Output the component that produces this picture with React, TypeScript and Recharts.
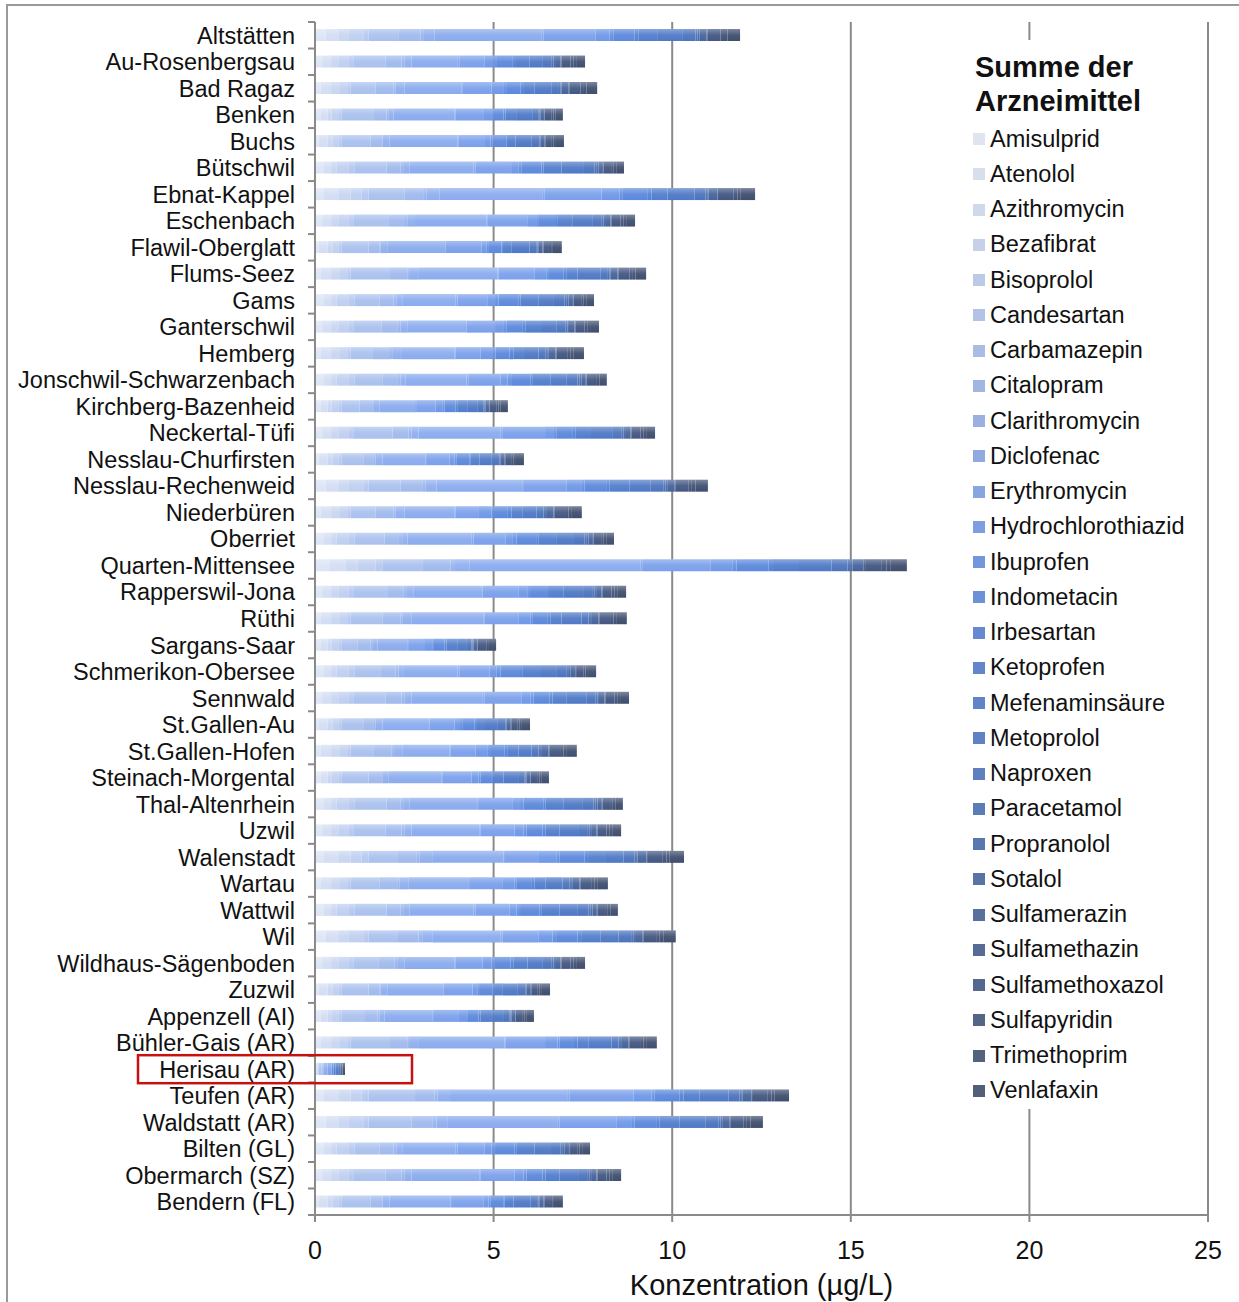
import { BarChart, Bar, XAxis, YAxis, CartesianGrid, Legend } from "recharts"

const sites = [
  "Altstätten", "Au-Rosenbergsau", "Bad Ragaz", "Benken", "Buchs", "Bütschwil", "Ebnat-Kappel",
  "Eschenbach", "Flawil-Oberglatt", "Flums-Seez", "Gams", "Ganterschwil", "Hemberg",
  "Jonschwil-Schwarzenbach", "Kirchberg-Bazenheid", "Neckertal-Tüfi", "Nesslau-Churfirsten",
  "Nesslau-Rechenweid", "Niederbüren", "Oberriet", "Quarten-Mittensee", "Rapperswil-Jona", "Rüthi",
  "Sargans-Saar", "Schmerikon-Obersee", "Sennwald", "St.Gallen-Au", "St.Gallen-Hofen",
  "Steinach-Morgental", "Thal-Altenrhein", "Uzwil", "Walenstadt", "Wartau", "Wattwil", "Wil",
  "Wildhaus-Sägenboden", "Zuzwil", "Appenzell (AI)", "Bühler-Gais (AR)", "Herisau (AR)",
  "Teufen (AR)", "Waldstatt (AR)", "Bilten (GL)", "Obermarch (SZ)", "Bendern (FL)",
]

const drugs = [
  "Amisulprid", "Atenolol", "Azithromycin", "Bezafibrat", "Bisoprolol", "Candesartan", "Carbamazepin",
  "Citalopram", "Clarithromycin", "Diclofenac", "Erythromycin", "Hydrochlorothiazid", "Ibuprofen",
  "Indometacin", "Irbesartan", "Ketoprofen", "Mefenaminsäure", "Metoprolol", "Naproxen", "Paracetamol",
  "Propranolol", "Sotalol", "Sulfamerazin", "Sulfamethazin", "Sulfamethoxazol", "Sulfapyridin",
  "Trimethoprim", "Venlafaxin",
]

// µg/L, one value per site (same order as sites)
const amisulprid = [.30,.20,.15,.15,.10, .25,.25,.20,.10,.15, .25,.20,.15,.25,.15, .20,.10,.30,.15,.25, .40,.20,.15,.15,.25, .20,.10,.15,.15,.25, .20,.25,.15,.25,.30, .20,.10,.15,.15,.02, .25,.30,.25,.20,.10]
const atenolol = [.35,.25,.30,.20,.25, .20,.40,.25,.25,.30, .20,.25,.30,.20,.20, .25,.25,.35,.30,.20, .45,.25,.30,.20,.20, .25,.25,.30,.20,.20, .25,.40,.30,.20,.35, .25,.25,.20,.30,.03, .40,.35,.20,.25,.25]
const azithromycin = [.30,.20,.25,.12,.15, .15,.35,.20,.15,.25, .15,.20,.25,.15,.12, .20,.15,.30,.25,.15, .35,.20,.25,.12,.15, .20,.15,.25,.12,.15, .20,.35,.25,.15,.30, .20,.15,.12,.25,.02, .35,.30,.15,.20,.15]
const bezafibrat = [.40,.30,.20,.20,.15, .35,.30,.30,.15,.20, .35,.30,.20,.35,.20, .30,.15,.40,.20,.35, .50,.30,.20,.20,.35, .30,.15,.20,.20,.35, .30,.30,.20,.35,.40, .30,.15,.20,.20,.02, .30,.40,.35,.30,.15]
const bisoprolol = [.15,.12,.10,.08,.10, .15,.20,.12,.10,.10, .15,.12,.10,.15,.08, .12,.10,.15,.10,.15, .20,.12,.10,.08,.15, .12,.10,.10,.08,.15, .12,.20,.10,.15,.15, .12,.10,.08,.10,.01, .20,.15,.15,.12,.10]
const candesartan = [.85,.90,.70,.90,.80, .90,1.0,1.0,.75,1.1, .70,.80,.60,.80,.50, 1.1,.60,.90,.70,.85, 1.1,.95,.90,.45,.75, .90,.60,.65,.75,.90, .90,.80,.80,.90,.80, .70,.75,.65,1.1,.08, 1.3,1.2,.70,.90,.80]
const carbamazepin = [.60,.45,.50,.35,.30, .40,.55,.45,.30,.50, .40,.45,.50,.40,.35, .45,.30,.60,.50,.40, .80,.45,.50,.35,.40, .45,.30,.50,.35,.40, .45,.55,.50,.40,.60, .45,.30,.35,.50,.04, .55,.60,.40,.45,.30]
const citalopram = [.10,.08,.06,.05,.04, .09,.08,.08,.04,.06, .09,.08,.06,.09,.05, .08,.04,.10,.06,.09, .12,.08,.06,.05,.09, .08,.04,.06,.05,.09, .08,.08,.06,.09,.10, .08,.04,.05,.06,.01, .08,.10,.09,.08,.04]
const clarithromycin = [.30,.20,.25,.15,.20, .15,.35,.20,.20,.25, .15,.20,.25,.15,.15, .20,.20,.30,.25,.15, .40,.20,.25,.15,.15, .20,.20,.25,.15,.15, .20,.35,.25,.15,.30, .20,.20,.15,.25,.02, .35,.30,.15,.20,.20]
const diclofenac = [3.0,1.3,1.6,1.7,1.9, 1.8,2.9,2.0,1.6,2.2, 1.5,1.6,1.5,1.7,1.0, 2.3,1.2,2.4,1.4,1.8, 4.8,1.9,2.0,.85,1.5, 2.0,1.3,1.3,1.5,1.9, 1.9,2.0,1.7,1.8,1.9, 1.4,1.55,1.35,2.4,.10, 3.3,3.1,1.5,1.9,1.7]
const erythromycin = [.05,.04,.03,.03,.02, .05,.04,.04,.02,.03, .05,.04,.03,.05,.03, .04,.02,.05,.03,.05, .06,.04,.03,.03,.05, .04,.02,.03,.03,.05, .04,.04,.03,.05,.05, .04,.02,.03,.03,0, .04,.05,.05,.04,.02]
const hydrochlorothiazid = [1.45,.70,.80,.80,.75, 1.0,1.6,1.1,1.0,1.0, .85,.80,.70,.90,.55, 1.2,.65,1.2,.65,.90, 1.9,1.0,.95,.45,.85, 1.05,.70,.70,.80,.95, .95,.95,.90,.95,1.0, .75,.80,.70,1.1,.10, 1.8,1.6,.75,.95,.90]
const ibuprofen = [.40,.25,.35,.20,.15, .20,.50,.25,.15,.35, .20,.25,.35,.20,.20, .25,.15,.40,.35,.20, .60,.25,.35,.20,.20, .25,.15,.35,.20,.20, .25,.50,.35,.20,.40, .25,.15,.20,.35,.01, .50,.40,.20,.25,.15]
const indometacin = [.10,.08,.06,.05,.06, .10,.08,.08,.06,.06, .10,.08,.06,.10,.05, .08,.06,.10,.06,.10, .12,.08,.06,.05,.10, .08,.06,.06,.05,.10, .08,.08,.06,.10,.10, .08,.06,.05,.06,.01, .08,.10,.10,.08,.06]
const irbesartan = [.60,.45,.40,.30,.35, .55,.70,.45,.35,.40, .55,.45,.40,.55,.30, .45,.35,.60,.40,.55, .90,.45,.40,.30,.55, .45,.35,.40,.30,.55, .45,.70,.40,.55,.60, .45,.35,.30,.40,.05, .70,.60,.55,.45,.35]
const ketoprofen = [.10,.08,.10,.05,.04, .06,.12,.08,.04,.10, .06,.08,.10,.06,.05, .08,.04,.10,.10,.06, .15,.08,.10,.05,.06, .08,.04,.10,.05,.06, .08,.12,.10,.06,.10, .08,.04,.05,.10,.01, .12,.10,.06,.08,.04]
const mefenaminsaeure = [.55,.40,.30,.30,.25, .50,.45,.40,.25,.30, .50,.40,.30,.50,.30, .40,.25,.55,.30,.50, .70,.40,.30,.30,.50, .40,.25,.30,.30,.50, .40,.45,.30,.50,.55, .40,.25,.30,.30,.04, .45,.55,.50,.40,.25]
const metoprolol = [.70,.38,.48,.47,.46, .63,.76,.58,.50,.65, .44,.47,.41,.45,.28, .64,.34,.60,.40,.50, .91,.58,.56,.25,.45, .56,.36,.36,.43,.55, .54,.52,.48,.51,.50, .43,.42,.36,.65,.10, .81,.74,.43,.54,.48]
const naproxen = [.35,.25,.20,.15,.20, .30,.30,.25,.20,.20, .30,.25,.20,.30,.15, .25,.20,.35,.20,.30, .45,.25,.20,.15,.30, .25,.20,.20,.15,.30, .25,.30,.20,.30,.35, .25,.20,.15,.20,.03, .30,.35,.30,.25,.20]
const paracetamol = [.06,.05,.04,.03,.02, .06,.05,.05,.02,.04, .06,.05,.04,.06,.03, .05,.02,.06,.04,.06, .08,.05,.04,.03,.06, .05,.02,.04,.03,.06, .05,.05,.04,.06,.06, .05,.02,.03,.04,.01, .05,.06,.06,.05,.02]
const propranolol = [.05,.04,.03,.03,.02, .05,.04,.04,.02,.03, .05,.04,.03,.05,.03, .04,.02,.05,.03,.05, .06,.04,.03,.03,.05, .04,.02,.03,.03,.05, .04,.04,.03,.05,.05, .04,.02,.03,.03,0, .04,.05,.05,.04,.02]
const sotalol = [.20,.15,.20,.10,.12, .12,.25,.15,.12,.20, .12,.15,.20,.12,.10, .15,.12,.20,.20,.12, .30,.15,.20,.10,.12, .15,.12,.20,.10,.12, .15,.25,.20,.12,.20, .15,.12,.10,.20,.02, .25,.20,.12,.15,.12]
const sulfamerazin = [.02,.01,.01,.01,.01, .02,.01,.01,.01,.01, .02,.01,.01,.02,.01, .01,.01,.02,.01,.02, .02,.01,.01,.01,.02, .01,.01,.01,.01,.02, .01,.01,.01,.02,.02, .01,.01,.01,.01,0, .01,.02,.02,.01,.01]
const sulfamethazin = [.02,.02,.02,.01,.02, .01,.03,.02,.02,.02, .01,.02,.02,.01,.01, .02,.02,.02,.02,.01, .03,.02,.02,.01,.01, .02,.02,.02,.01,.01, .02,.03,.02,.01,.02, .02,.02,.01,.02,0, .03,.02,.01,.02,.02]
const sulfamethoxazol = [.35,.25,.30,.20,.15, .20,.40,.25,.15,.30, .20,.25,.30,.20,.20, .25,.15,.35,.30,.20, .45,.25,.30,.20,.20, .25,.15,.30,.20,.20, .25,.40,.30,.20,.35, .25,.15,.20,.30,.03, .40,.35,.20,.25,.15]
const sulfapyridin = [.10,.08,.10,.05,.06, .06,.12,.08,.06,.10, .06,.08,.10,.06,.05, .08,.06,.10,.10,.06, .15,.08,.10,.05,.06, .08,.06,.10,.05,.06, .08,.12,.10,.06,.10, .08,.06,.05,.10,.01, .12,.10,.06,.08,.06]
const trimethoprim = [.10,.08,.07,.06,.05, .10,.09,.08,.05,.07, .10,.08,.07,.10,.06, .08,.05,.10,.07,.10, .12,.08,.07,.06,.10, .08,.05,.07,.06,.10, .08,.09,.07,.10,.10, .08,.05,.06,.07,.01, .09,.10,.10,.08,.05]
const venlafaxin = [.35,.25,.30,.20,.25, .20,.40,.25,.25,.30, .20,.25,.30,.20,.20, .25,.25,.35,.30,.20, .45,.25,.30,.20,.20, .25,.25,.30,.20,.20, .25,.40,.30,.20,.35, .25,.25,.20,.30,.06, .40,.35,.20,.25,.25]

const xTicks = [0, 5, 10, 15, 20, 25]

const series = [
  amisulprid, atenolol, azithromycin, bezafibrat, bisoprolol, candesartan, carbamazepin, citalopram,
  clarithromycin, diclofenac, erythromycin, hydrochlorothiazid, ibuprofen, indometacin, irbesartan,
  ketoprofen, mefenaminsaeure, metoprolol, naproxen, paracetamol, propranolol, sotalol, sulfamerazin,
  sulfamethazin, sulfamethoxazol, sulfapyridin, trimethoprim, venlafaxin,
]

const data = sites.map((name, i) => {
  const row: Record<string, string | number> = { name }
  drugs.forEach((d, k) => { row[d] = series[k][i] })
  return row
})

// light -> saturated blue -> grey navy, like the Excel gradient theme
const colors = [
  "#dce5f5", "#d3ddf3", "#c9d6f1", "#bfcff0", "#b5c8ef", "#aac1ee", "#a0baed", "#98b4ee",
  "#90afee", "#8aabee", "#83a6ed", "#7ba0eb", "#6f98e7", "#6590e2", "#5c89dc", "#5683d5",
  "#527ecd", "#4f79c6", "#4c74bd", "#4a6fb3", "#4869a8", "#46649d", "#455f93", "#445b8a",
  "#435782", "#42547b", "#415175", "#404e6f",
]

const swatches = [
  "#dfe4ee", "#d8dfec", "#d0d9ea", "#c6d1e9", "#bccae8", "#b3c3e6", "#a9bce4", "#a1b6e2",
  "#99b0e1", "#90aae0", "#89a5e0", "#7e9edf", "#7397dc", "#6c91d7", "#6789d1", "#6485cb",
  "#6183c7", "#5f82c4", "#5e80c0", "#5c7cb8", "#5a78b0", "#5874a6", "#57709e", "#566c96",
  "#55688e", "#546586", "#53627e", "#525f78",
]

const FONT = '"Liberation Sans", Arial, sans-serif'
const AXIS = "#8a8a8a"

function lighten(hex: string, t: number) {
  const n = parseInt(hex.slice(1), 16)
  const mix = (c: number) => Math.round(c + (255 - c) * t)
  const r = mix((n >> 16) & 255), g = mix((n >> 8) & 255), b = mix(n & 255)
  return `rgb(${r},${g},${b})`
}

const TICK_SIZE = 6
const TICK_MARGIN = 14

function SiteTick(props: any) {
  const { x, y, payload, index } = props
  const axisX = x + TICK_SIZE + TICK_MARGIN
  const half = payload.offset || 1193 / sites.length / 2
  return (
    <g>
      {index === 0 && (
        <line x1={axisX - 7} x2={axisX} y1={y - half} y2={y - half} stroke={AXIS} strokeWidth={2} />
      )}
      <line x1={axisX - 7} x2={axisX} y1={y + half} y2={y + half} stroke={AXIS} strokeWidth={2} />
      <text x={x} y={y} dy={8.5} textAnchor="end" fontSize={23.5} fill="#111" fontFamily={FONT}>
        {payload.value}
      </text>
      {payload.value === "Herisau (AR)" && (
        <rect x={x - 157} y={y - 14} width={274} height={28} fill="none" stroke="#c81010" strokeWidth={2.5} />
      )}
    </g>
  )
}

function DrugLegend() {
  return (
    <div style={{ background: "#fff", width: 240, paddingTop: 10, fontFamily: FONT, color: "#111" }}>
      <div style={{ paddingLeft: 15, fontWeight: "bold", fontSize: 29, lineHeight: "34px" }}>
        Summe der
        <br />
        Arzneimittel
      </div>
      <div style={{ marginTop: 3.5 }}>
        {drugs.map((d, i) => (
          <div key={d} style={{ height: 35.26, display: "flex", alignItems: "center", fontSize: 23.5 }}>
            <span style={{ display: "inline-block", width: 12, height: 12, marginLeft: 13, marginRight: 5, background: swatches[i] }} />
            {d}
          </div>
        ))}
      </div>
    </div>
  )
}

export default function App() {
  return (
    <div style={{ position: "absolute", left: 0, top: 0, width: 1239, height: 1302, background: "#fff", overflow: "hidden" }}>
      <div style={{ position: "absolute", left: 6, top: 4, width: 1300, height: 1400, borderLeft: "2px solid #9a9a9a", borderTop: "2px solid #9a9a9a" }} />
      <BarChart
        width={1239}
        height={1302}
        data={data}
        layout="vertical"
        margin={{ top: 22, right: 31, left: 0, bottom: 7 }}
        barCategoryGap={0}
        style={{ position: "absolute", left: 0, top: 0 }}
      >
        <defs>
          {colors.map((c, i) => (
            <linearGradient key={i} id={`g${i}`} x1="0" y1="0" x2="0" y2="1">
              <stop offset="0%" stopColor={lighten(c, 0.32)} />
              <stop offset="50%" stopColor={lighten(c, 0.06)} />
              <stop offset="100%" stopColor={c} />
            </linearGradient>
          ))}
        </defs>
        <CartesianGrid horizontal={false} stroke={AXIS} strokeWidth={2} />
        <XAxis
          type="number"
          domain={[0, 25]}
          ticks={xTicks}
          height={80}
          stroke={AXIS}
          strokeWidth={2}
          tickSize={7}
          tickMargin={19}
          tick={{ fill: "#111", fontSize: 25, fontFamily: FONT }}
          label={{ value: "Konzentration (µg/L)", position: "insideBottom", offset: 0, fill: "#111", fontSize: 29, fontFamily: FONT }}
        />
        <YAxis
          type="category"
          dataKey="name"
          width={315}
          interval={0}
          stroke={AXIS}
          strokeWidth={2}
          tickLine={false}
          tickSize={TICK_SIZE}
          tickMargin={TICK_MARGIN}
          tick={<SiteTick />}
        />
        <Legend
          layout="vertical"
          align="center"
          verticalAlign="middle"
          content={() => <DrugLegend />}
          wrapperStyle={{ position: "absolute", left: 960, top: 40, width: 240, height: "auto" }}
        />
        {drugs.map((d, i) => (
          <Bar key={d} dataKey={d} stackId="sum" barSize={12} fill={`url(#g${i})`} isAnimationActive={false} />
        ))}
      </BarChart>
    </div>
  )
}
